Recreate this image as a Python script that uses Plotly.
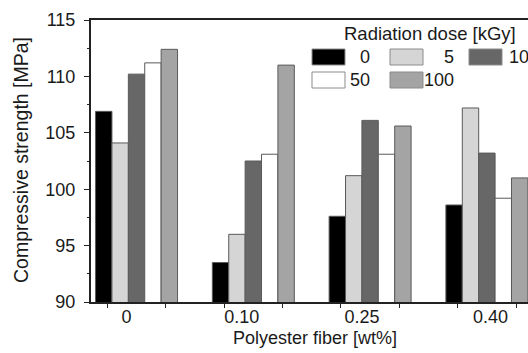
import plotly.graph_objects as go

# ---- data ----
fiber_labels = ["0", "0.10", "0.25", "0.40"]
dose_labels = ["0", "5", "10", "50", "100"]
strength_0 = [106.9, 93.5, 97.6, 98.6]
strength_5 = [104.1, 96.0, 101.2, 107.2]
strength_10 = [110.2, 102.5, 106.1, 103.2]
strength_50 = [111.2, 103.1, 103.1, 99.2]
strength_100 = [112.4, 111.0, 105.6, 101.0]
y_tick_values = [90, 95, 100, 105, 110, 115]

series = [strength_0, strength_5, strength_10, strength_50, strength_100]
fill_colors = ["#000000", "#d5d5d5", "#676767", "#ffffff", "#a4a4a4"]
bar_line_color = "#5a5a5a"
swatch_line_color = "#8c8c8c"

FONT = "Liberation Sans, Arial, Helvetica, sans-serif"
W, H = 528, 353
ML, MR, MT, MB = 91, 0, 20, 51

x_pos = list(range(len(fiber_labels)))
label_offsets = [-0.085, -0.10, -0.07, 0.03]

fig = go.Figure()
for name, vals, col in zip(dose_labels, series, fill_colors):
    fig.add_trace(go.Bar(
        x=x_pos, y=vals, name=name, showlegend=False,
        marker=dict(color=col, line=dict(color=bar_line_color, width=1)),
    ))

# ---- manual legend (layout positioning in pixels -> paper) ----
pw, ph = W - ML - MR, H - MT - MB
def px_x(p):
    return (p - ML) / pw
def px_y(p):
    return (H - MB - p) / ph

swatch_left = [312, 390, 469]
label_right = [372, 456, 531]
row_top = [49, 72]
sw_w, sw_h = 33, 16

shapes = []
annotations = []
for i, (name, col) in enumerate(zip(dose_labels, fill_colors)):
    r, c = divmod(i, 3)
    x0, y0 = swatch_left[c], row_top[r]
    shapes.append(dict(type="rect", xref="paper", yref="paper",
                       x0=px_x(x0), x1=px_x(x0 + sw_w),
                       y0=px_y(y0 + sw_h), y1=px_y(y0),
                       fillcolor=col, line=dict(color=swatch_line_color, width=1)))
    annotations.append(dict(xref="paper", yref="paper", x=px_x(label_right[c]),
                            y=px_y(y0 + sw_h / 2), xanchor="right", yanchor="middle",
                            text=name, showarrow=False,
                            font=dict(size=18, color="#1a1a1a", family=FONT)))
annotations.append(dict(xref="paper", yref="paper", x=px_x(342), y=px_y(34),
                        xanchor="left", yanchor="middle", text="Radiation dose [kGy]",
                        showarrow=False, font=dict(size=18.5, color="#1a1a1a", family=FONT)))
# axis titles placed as in the reference
annotations.append(dict(xref="paper", yref="paper", x=px_x(315), y=px_y(338),
                        xanchor="center", yanchor="middle", text="Polyester fiber [wt%]",
                        showarrow=False, font=dict(size=18, color="#1a1a1a", family=FONT)))
annotations.append(dict(xref="paper", yref="paper", x=px_x(21), y=px_y(160),
                        xanchor="center", yanchor="middle", textangle=-90,
                        text="Compressive strength [MPa]",
                        showarrow=False, font=dict(size=19.5, color="#1a1a1a", family=FONT)))

fig.update_layout(
    width=W, height=H,
    margin=dict(l=ML, r=MR, t=MT, b=MB, pad=0),
    paper_bgcolor="white", plot_bgcolor="white",
    barmode="group", bargap=0.298, bargroupgap=0,
    font=dict(family=FONT, size=18, color="#1a1a1a"),
    shapes=shapes, annotations=annotations,
    xaxis=dict(
        range=[-0.39, 3.352],
        tickmode="array",
        tickvals=[x + o for x, o in zip(x_pos, label_offsets)],
        ticktext=fiber_labels,
        ticks="", showgrid=False, zeroline=False,
        ticklabelstandoff=-3,
        showline=True, linecolor="#222222", linewidth=2, mirror=True,
        minor=dict(ticks="outside", tick0=-0.25, dtick=0.5, ticklen=4,
                   tickwidth=1, tickcolor="#222222", showgrid=False),
        tickfont=dict(size=18, family=FONT),
    ),
    yaxis=dict(
        range=[90, 115],
        tickmode="array", tickvals=y_tick_values,
        ticks="outside", ticklen=5, tickwidth=1, tickcolor="#222222",
        ticklabelstandoff=5,
        showgrid=False, zeroline=False,
        showline=True, linecolor="#222222", linewidth=2,
        minor=dict(ticks="outside", dtick=2.5, tick0=90, ticklen=2,
                   tickwidth=1, tickcolor="#222222", showgrid=False),
        tickfont=dict(size=18, family=FONT),
    ),
)

fig.write_html("out.html")
